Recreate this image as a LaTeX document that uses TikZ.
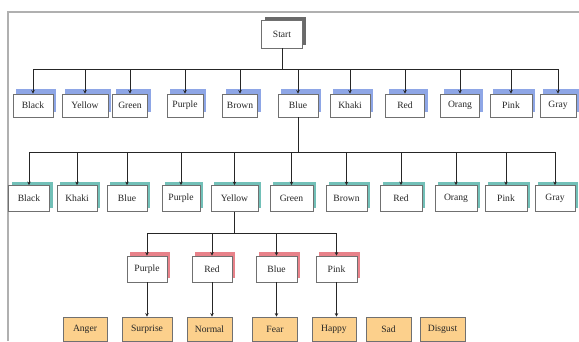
\documentclass[tikz,border=0pt]{standalone}
\usepackage{fontspec}
\setmainfont{Liberation Serif}
\usetikzlibrary{shadows,arrows.meta}
\definecolor{frameg}{HTML}{B0B0B0}
\definecolor{boxg}{HTML}{707070}
\definecolor{shblue}{HTML}{8EA6E6}
\definecolor{shteal}{HTML}{72C0B8}
\definecolor{shred}{HTML}{E8828A}
\definecolor{shgray}{HTML}{6A6A6A}
\definecolor{emo}{HTML}{FCD08C}
\tikzset{
  base/.style={draw=boxg, line width=0.8pt, fill=white, inner sep=0pt, text=black!85, font=\fontsize{9.6}{10}\selectfont},
  lvstart/.style={base, minimum width=41pt, minimum height=28pt, copy shadow={shadow xshift=3pt, shadow yshift=3pt, fill=shgray, draw=none}},
  lvone/.style={base, minimum width=40pt, minimum height=23pt, copy shadow={shadow xshift=3pt, shadow yshift=5pt, fill=shblue, draw=none}},
  lvtwo/.style={base, minimum width=41pt, minimum height=26pt, copy shadow={shadow xshift=3pt, shadow yshift=4pt, fill=shteal, draw=none}},
  lvthree/.style={base, minimum width=40pt, minimum height=26pt, copy shadow={shadow xshift=3pt, shadow yshift=4pt, fill=shred, draw=none}},
  emobox/.style={base, fill=emo, minimum width=44pt, minimum height=24pt},
  conn/.style={line width=0.9pt, draw=black!85},
  arr/.style={conn, -{Stealth[length=3.5pt,width=3.5pt]}},
}
\begin{document}
\begin{tikzpicture}[x=1pt,y=-1pt]
\useasboundingbox (0,0) rectangle (579,341);
% frame
\draw[frameg, line width=1.2pt] (8,341) -- (8,12) -- (579,12);

\node[lvstart] (start) at (282,34) {Start};

% level 1
\node[lvone] (a1) at (33,105.5) {Black};
\node[lvone, minimum width=46pt] (a2) at (85,105.5) {Yellow};
\node[lvone, minimum width=35pt] (a3) at (130,105.5) {Green};
\node[lvone, minimum width=36pt] (a4) at (185,105.5) {Purple};
\node[lvone, minimum width=35pt] (a5) at (240,105.5) {Brown};
\node[lvone] (a6) at (298,105.5) {Blue};
\node[lvone] (a7) at (350,105.5) {Khaki};
\node[lvone, minimum width=39pt] (a8) at (405,105.5) {Red};
\node[lvone, minimum width=39pt] (a9) at (460,105.5) {Orang};
\node[lvone, minimum width=42pt] (a10) at (511,105.5) {Pink};
\node[lvone, minimum width=36pt] (a11) at (558,105.5) {Gray};

\foreach \n in {a1,a2,a3,a4,a5,a6,a7,a8,a9,a10,a11}
  \draw[arr] (start.south) -- ++(0,21) -| (\n.north);

% level 2
\node[lvtwo] (b1) at (29,198.5) {Black};
\node[lvtwo, minimum width=40pt] (b2) at (77,198.5) {Khaki};
\node[lvtwo, minimum width=40pt] (b3) at (127,198.5) {Blue};
\node[lvtwo, minimum width=38pt] (b4) at (181,198.5) {Purple};
\node[lvtwo, minimum width=47pt] (b5) at (234.5,198.5) {Yellow};
\node[lvtwo, minimum width=43pt] (b6) at (291.5,198.5) {Green};
\node[lvtwo, minimum width=41pt] (b7) at (346.5,198.5) {Brown};
\node[lvtwo, minimum width=42pt] (b8) at (401,198.5) {Red};
\node[lvtwo, minimum width=42pt] (b9) at (456,198.5) {Orang};
\node[lvtwo, minimum width=42pt] (b10) at (506,198.5) {Pink};
\node[lvtwo, minimum width=40pt] (b11) at (555,198.5) {Gray};

\foreach \n in {b1,b2,b3,b4,b5,b6,b7,b8,b9,b10,b11}
  \draw[arr] (a6.south) -- ++(0,35) -| (\n.north);

% level 3
\node[lvthree] (c1) at (147,269) {Purple};
\node[lvthree] (c2) at (212,269) {Red};
\node[lvthree, minimum width=41pt] (c3) at (276.5,269) {Blue};
\node[lvthree, minimum width=41pt] (c4) at (336.5,269) {Pink};

\foreach \n in {c1,c2,c3,c4}
  \draw[arr] (b5.south) -- ++(0,22) -| (\n.north);

% level 4
\node[emobox] (e1) at (85,329) {Anger};
\node[emobox, minimum width=50pt] (e2) at (147,329) {Surprise};
\node[emobox, minimum width=45pt] (e3) at (209.5,329) {Normal};
\node[emobox, minimum width=45pt] (e4) at (275,329) {Fear};
\node[emobox, minimum width=44pt] (e5) at (334,329) {Happy};
\node[emobox, minimum width=45pt] (e6) at (388.5,329) {Sad};
\node[emobox, minimum width=45pt] (e7) at (442.5,329) {Disgust};

\draw[arr] (c1.south) -- (c1.south |- e2.north);
\draw[arr] (c2.south) -- (c2.south |- e3.north);
\draw[arr] (c3.south) -- (c3.south |- e4.north);
\draw[arr] (c4.south) -- (c4.south |- e5.north);
\end{tikzpicture}
\end{document}
